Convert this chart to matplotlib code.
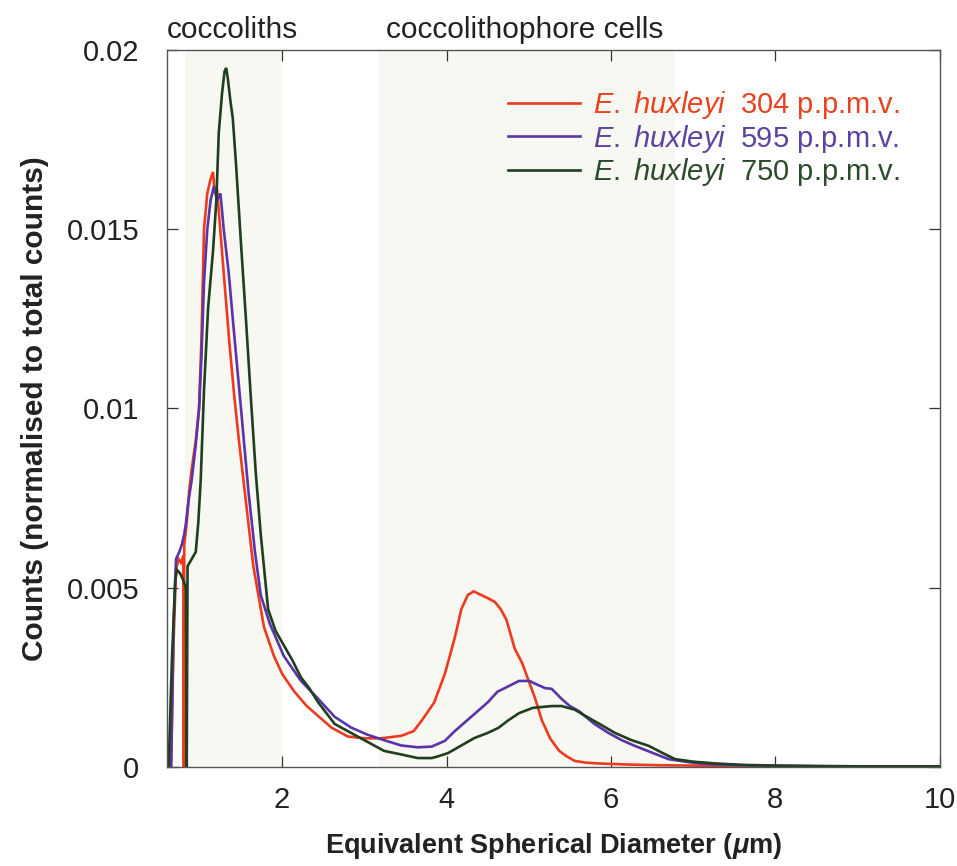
import numpy as np
import matplotlib
matplotlib.use("Agg")
import matplotlib.pyplot as plt

plt.rcParams['font.family'] = ['Liberation Sans', 'DejaVu Sans']
plt.rcParams['mathtext.fontset'] = 'custom'
plt.rcParams['mathtext.rm'] = 'Liberation Sans'
plt.rcParams['mathtext.it'] = 'Liberation Sans:italic'
plt.rcParams['mathtext.sf'] = 'Liberation Sans:bold:italic'

# size distributions (diameter in um, normalised counts)
x_304 = [0.65, 0.68, 0.71, 0.74, 0.77, 0.80, 0.805, 0.81, 0.84, 0.87, 0.90, 0.95, 0.99,
         1.02, 1.05, 1.09, 1.13, 1.16, 1.18, 1.21, 1.24, 1.30, 1.36, 1.42, 1.48, 1.56,
         1.65, 1.78, 1.90, 2.0, 2.15, 2.3, 2.45, 2.6, 2.8, 3.0, 3.2, 3.45, 3.6, 3.7,
         3.85, 3.98, 4.1, 4.18, 4.26, 4.33, 4.42, 4.51, 4.59, 4.66, 4.73, 4.83, 4.92,
         5.0, 5.08, 5.16, 5.26, 5.37, 5.46, 5.56, 5.7, 5.85, 6.2, 6.6, 7.0, 7.5, 8.0,
         9.0, 10.0]
y_304 = [0, 0.0035, 0.0055, 0.0058, 0.0057, 0.0059, 0, 0.0062, 0.0068, 0.0077, 0.0083,
         0.0091, 0.0100, 0.0120, 0.0150, 0.0160, 0.0164, 0.0166, 0.0160, 0.0161, 0.0152,
         0.0135, 0.0118, 0.0103, 0.0090, 0.0074, 0.0056, 0.0039, 0.0031, 0.0026, 0.0021,
         0.0017, 0.0014, 0.0011, 0.00085, 0.0008, 0.0008, 0.00087, 0.0010, 0.0013,
         0.0018, 0.0026, 0.0036, 0.0044, 0.0048, 0.0049, 0.0048, 0.0047, 0.0046, 0.0044,
         0.0041, 0.0033, 0.0029, 0.0024, 0.0019, 0.0013, 0.0008, 0.00045, 0.0003,
         0.00017, 0.00012, 0.0001, 0.00007, 0.00005, 0.00004, 0.00002, 0.00001, 0, 0]

x_595 = [0.65, 0.68, 0.71, 0.75, 0.78, 0.81, 0.83, 0.86, 0.90, 0.95, 0.99, 1.02, 1.05,
         1.09, 1.13, 1.17, 1.21, 1.25, 1.29, 1.35, 1.42, 1.50, 1.59, 1.67, 1.74, 1.85,
         2.02, 2.23, 2.44, 2.64, 2.84, 3.04, 3.24, 3.45, 3.65, 3.82, 3.98, 4.1, 4.2,
         4.34, 4.5, 4.62, 4.76, 4.88, 5.01, 5.1, 5.2, 5.28, 5.4, 5.5, 5.61, 5.8, 5.97,
         6.13, 6.29, 6.5, 6.7, 6.9, 7.07, 7.4, 7.8, 8.5, 10.0]
y_595 = [0, 0.004, 0.0058, 0.0060, 0.0062, 0.0065, 0.0068, 0.0074, 0.0080, 0.0090,
         0.0100, 0.0115, 0.0135, 0.0150, 0.0158, 0.0162, 0.0158, 0.0160, 0.0150, 0.0138,
         0.0120, 0.0100, 0.0077, 0.0060, 0.0048, 0.0040, 0.0031, 0.0024, 0.0019, 0.0014,
         0.0011, 0.0009, 0.00075, 0.0006, 0.00055, 0.00057, 0.00073, 0.0010, 0.0012,
         0.00148, 0.0018, 0.0021, 0.00226, 0.0024, 0.0024, 0.0023, 0.0022, 0.00218,
         0.0019, 0.0017, 0.00156, 0.0012, 0.00095, 0.00075, 0.00059, 0.0004, 0.00022,
         0.00015, 0.0001, 0.00006, 0.00004, 0.00002, 0.00001]

x_750 = [0.62, 0.66, 0.70, 0.72, 0.76, 0.80, 0.83, 0.84, 0.85, 0.90, 0.95, 0.98, 1.01,
         1.05, 1.10, 1.16, 1.20, 1.23, 1.27, 1.30, 1.32, 1.34, 1.37, 1.40, 1.44, 1.50,
         1.56, 1.62, 1.68, 1.74, 1.83, 1.92, 2.02, 2.12, 2.23, 2.33, 2.44, 2.64, 2.84,
         3.04, 3.24, 3.45, 3.65, 3.82, 3.9, 4.02, 4.18, 4.34, 4.5, 4.63, 4.75, 4.88,
         5.05, 5.28, 5.4, 5.56, 5.73, 5.9, 6.05, 6.25, 6.46, 6.62, 6.78, 7.0, 7.27, 7.6,
         8.0, 8.5, 9.0, 10.0]
y_750 = [0, 0.003, 0.0052, 0.0055, 0.0054, 0.0052, 0.0050, 0, 0.0056, 0.0058, 0.0060,
         0.0068, 0.0080, 0.0105, 0.0128, 0.0144, 0.0158, 0.0177, 0.0188, 0.0194, 0.0195,
         0.0192, 0.0186, 0.0181, 0.0168, 0.0146, 0.0125, 0.0103, 0.0082, 0.0065, 0.0044,
         0.0038, 0.0034, 0.0030, 0.0025, 0.0022, 0.0018, 0.0012, 0.00095, 0.0007,
         0.00045, 0.00035, 0.00025, 0.00025, 0.0003, 0.00039, 0.0006, 0.00081, 0.00095,
         0.00109, 0.0013, 0.0015, 0.00165, 0.0017, 0.0017, 0.0016, 0.00137, 0.00115,
         0.00095, 0.00075, 0.00059, 0.0004, 0.00022, 0.00015, 0.0001, 0.00006, 0.00004,
         0.00003, 0.00002, 0.00002]

series = [
    (x_304, y_304, "304", "#ee3a1f", "#e8421f"),
    (x_595, y_595, "595", "#5a34a8", "#5e42a2"),
    (x_750, y_750, "750", "#1f3f1f", "#2c4a2c"),
]

# size ranges shaded in the figure
coccolith_band = (0.82, 2.0)
cell_band = (3.18, 6.78)

fig = plt.figure(figsize=(9.57, 8.66), dpi=100)
ax = fig.add_axes([0.1745, 0.1143, 0.8075, 0.828])

ax.axvspan(*coccolith_band, color="#f7f8f1", lw=0, zorder=0)
ax.axvspan(*cell_band, color="#f7f8f1", lw=0, zorder=0)

handles = []
for xs, ys, ppm, c, tc in series:
    h, = ax.plot(xs, ys, color=c, lw=1.9, solid_joinstyle="miter")
    handles.append(h)

labels = [r"$\mathit{E.\ huxleyi}$  " + s[2] + " p.p.m.v." for s in series]
leg = ax.legend(handles, labels, loc="upper right", bbox_to_anchor=(0.948, 0.945),
                frameon=False, fontsize=21, handlelength=2.45, handletextpad=0.45,
                labelspacing=0.04, borderaxespad=0, borderpad=0)
for t, s in zip(leg.get_texts(), series):
    t.set_color(s[4])

ax.set_xlim(0.6, 10)
ax.set_ylim(0, 0.02)
ax.set_xticks([2, 4, 6, 8, 10])
ax.set_yticks([0, 0.005, 0.01, 0.015, 0.02])
ax.set_yticklabels(["0", "0.005", "0.01", "0.015", "0.02"])
ax.tick_params(direction="in", length=8, width=0.9, top=True, right=True,
               labelsize=21, pad=20, colors="#333333", labelcolor="#222222")
ax.tick_params(axis="x", pad=14)
for sp in ax.spines.values():
    sp.set_color("#555555")
    sp.set_linewidth(1.0)

ax.set_xlabel(r"Equivalent Spherical Diameter ($\mathsf{\mu}$m)", fontsize=19.5,
              fontweight="bold", labelpad=12, color="#222222")
ax.set_ylabel("Counts (normalised to total counts)", fontsize=21.5, fontweight="bold",
              labelpad=13, color="#222222")

ax.text(1.4, 1.008, "coccoliths", transform=ax.get_xaxis_transform(), ha="center",
        va="bottom", fontsize=21.5, color="#222222")
ax.text(4.95, 1.008, "coccolithophore cells", transform=ax.get_xaxis_transform(),
        ha="center", va="bottom", fontsize=21.5, color="#222222")

fig.savefig("out.png", dpi=100, facecolor="white")
